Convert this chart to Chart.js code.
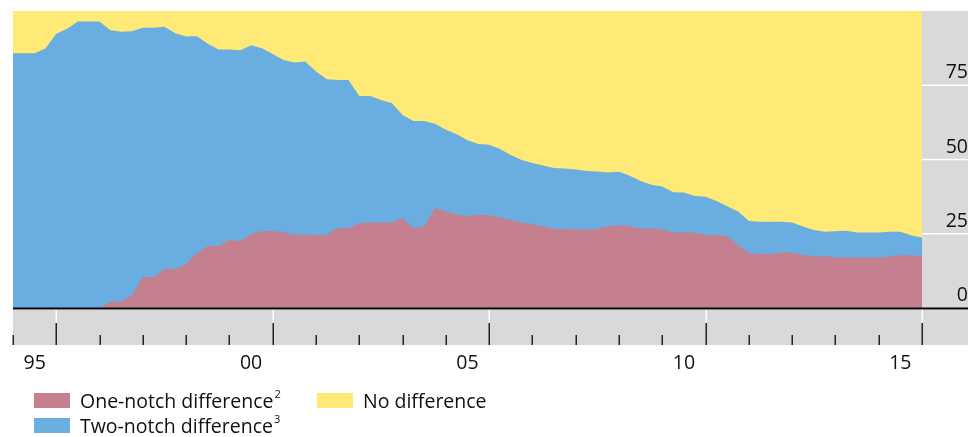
<!DOCTYPE html>
<html>
<head>
<meta charset="utf-8">
<script src="https://cdn.jsdelivr.net/npm/chart.js@4/dist/chart.umd.min.js"></script>
<style>
  html, body { margin: 0; padding: 0; background: #fff; }
  #wrap { position: relative; width: 968px; height: 437px; overflow: hidden; }
  #c { position: absolute; left: 0; top: 0; }
  .lg-box { position: absolute; width: 36px; height: 15px; }
  .lg-text { position: absolute; font-family: 'Open Sans', 'Noto Sans', sans-serif; font-size: 19.5px; line-height: 20px; color: #111; white-space: nowrap; }
  .lg-text sup { font-size: 11px; vertical-align: baseline; position: relative; top: -10px; margin-left: 1px; }
</style>
</head>
<body>
<div id="wrap">
  <canvas id="c" width="968" height="437"></canvas>
</div>
<script>
// ---- Data (quarterly, decimal years) ----
const quarters = [
  1994.5, 1994.75, 1995, 1995.25, 1995.5, 1995.75, 1996, 1996.25, 1996.5, 1996.75,
  1997, 1997.25, 1997.5, 1997.75, 1998, 1998.25, 1998.5, 1998.75, 1999, 1999.25,
  1999.5, 1999.75, 2000, 2000.25, 2000.5, 2000.75, 2001, 2001.25, 2001.5, 2001.75,
  2002, 2002.25, 2002.5, 2002.75, 2003, 2003.25, 2003.5, 2003.75, 2004, 2004.25,
  2004.5, 2004.75, 2005, 2005.25, 2005.5, 2005.75, 2006, 2006.25, 2006.5, 2006.75,
  2007, 2007.25, 2007.5, 2007.75, 2008, 2008.25, 2008.5, 2008.75, 2009, 2009.25,
  2009.5, 2009.75, 2010, 2010.25, 2010.5, 2010.75, 2011, 2011.25, 2011.5, 2011.75,
  2012, 2012.25, 2012.5, 2012.75, 2013, 2013.25, 2013.5, 2013.75, 2014, 2014.25,
  2014.5, 2014.75, 2015, 2015.25, 2015.5
];

const oneNotch = [
  0, 0, 0, 0, 0, 0, 0, 0, 0, 2.1,
  2.1, 4.4, 10.4, 10.4, 13.1, 13.1, 14.8, 18.5, 20.9, 20.9,
  22.9, 22.5, 24.9, 25.9, 25.9, 25.5, 24.7, 24.7, 24.5, 24.7,
  26.9, 26.9, 28.5, 28.8, 28.8, 28.8, 30.3, 26.9, 27.5, 33.7,
  32.5, 31.5, 31.0, 31.3, 31.3, 30.5, 29.6, 28.8, 28.1, 27.5,
  26.6, 26.6, 26.5, 26.4, 26.6, 27.5, 27.9, 27.5, 26.8, 26.8,
  26.5, 25.4, 25.4, 25.4, 24.6, 24.6, 24.2, 21.2, 18.5, 18.2,
  18.2, 18.7, 18.7, 17.8, 17.3, 17.5, 17.0, 17.0, 17.0, 17.0,
  17.0, 17.3, 17.8, 17.8, 17.5
];

const twoNotch = [
  85.8, 85.8, 85.8, 87.4, 92.3, 94.0, 96.5, 96.5, 96.5, 91.4,
  90.9, 88.8, 84.0, 84.0, 81.6, 79.4, 76.6, 73.0, 68.1, 66.1,
  64.1, 64.3, 63.6, 61.6, 59.6, 58.0, 58.0, 58.3, 55.1, 52.3,
  49.9, 49.9, 42.9, 42.6, 41.2, 40.2, 34.7, 36.1, 35.5, 28.3,
  27.5, 27.0, 25.5, 23.9, 23.7, 23.0, 21.9, 21.0, 20.7, 20.5,
  20.5, 20.4, 20.1, 19.7, 19.4, 18.1, 18.0, 17.0, 16.0, 14.7,
  14.4, 13.6, 13.5, 12.3, 12.9, 11.4, 10.1, 11.3, 10.8, 10.8,
  10.8, 10.3, 10.1, 9.6, 9.0, 8.2, 8.8, 9.0, 8.4, 8.4,
  8.4, 8.4, 7.9, 6.7, 6.2
];

const noDifference = [
  14.2, 14.2, 14.2, 12.6, 7.7, 6.0, 3.5, 3.5, 3.5, 6.5,
  7.0, 6.8, 5.6, 5.6, 5.3, 7.5, 8.6, 8.5, 11.0, 13.0,
  13.0, 13.2, 11.5, 12.5, 14.5, 16.5, 17.3, 17.0, 20.4, 23.0,
  23.2, 23.2, 28.6, 28.6, 30.0, 31.0, 35.0, 37.0, 37.0, 38.0,
  40.0, 41.5, 43.5, 44.8, 45.0, 46.5, 48.5, 50.2, 51.2, 52.0,
  52.9, 53.0, 53.4, 53.9, 54.0, 54.4, 54.1, 55.5, 57.2, 58.5,
  59.1, 61.0, 61.1, 62.3, 62.5, 64.0, 65.7, 67.5, 70.7, 71.0,
  71.0, 71.0, 71.2, 72.6, 73.7, 74.3, 74.2, 74.0, 74.6, 74.6,
  74.6, 74.3, 74.3, 75.5, 76.3
];

const seriesNames = ['One-notch difference', 'Two-notch difference', 'No difference'];
const seriesNotes = ['2', '3', ''];
const seriesColors = ['#c4808f', '#6aade0', '#ffea78'];
const xTickYears = [1995, 2000, 2005, 2010, 2015];
const yTickValues = [0, 25, 50, 75];

const toPts = arr => arr.map((v, i) => ({ x: quarters[i], y: v }));

Chart.defaults.font.family = "'Open Sans', 'Noto Sans', sans-serif";
Chart.defaults.color = '#111';

function noScalePadding(s) {
  s.paddingLeft = 0; s.paddingRight = 0; s.paddingTop = 0; s.paddingBottom = 0;
}

const framePlugin = {
  id: 'frame',
  beforeDraw(chart) {
    const { ctx, chartArea: ca, scales } = chart;
    const W = chart.width;
    ctx.save();
    ctx.fillStyle = '#d9d9d9';
    // right value panel
    ctx.fillRect(ca.right, ca.top, W - ca.right, ca.bottom - ca.top);
    // bottom time band
    ctx.fillRect(ca.left, ca.bottom + 2, W - ca.left, 35);
    // white lines in the value panel
    ctx.strokeStyle = '#ffffff';
    ctx.lineWidth = 1.5;
    yTickValues.forEach(v => {
      if (v === 0) return;
      const y = scales.y.getPixelForValue(v);
      ctx.beginPath(); ctx.moveTo(ca.right, y); ctx.lineTo(W, y); ctx.stroke();
    });
    // ticks in the time band
    const xs = scales.x;
    for (let v = xs.min; v <= xs.max + 1e-6; v += 1) {
      const x = Math.round(xs.getPixelForValue(v)) + 0.25;
      const major = Math.round(v - 0.5) % 5 === 0;
      if (major) {
        ctx.strokeStyle = '#ffffff'; ctx.lineWidth = 1.5;
        ctx.beginPath(); ctx.moveTo(x, ca.bottom + 2); ctx.lineTo(x, ca.bottom + 15); ctx.stroke();
        ctx.strokeStyle = '#222'; ctx.lineWidth = 1.5;
        ctx.beginPath(); ctx.moveTo(x, ca.bottom + 15); ctx.lineTo(x, ca.bottom + 37); ctx.stroke();
      } else {
        ctx.strokeStyle = '#222'; ctx.lineWidth = 1.5;
        ctx.beginPath(); ctx.moveTo(x, ca.bottom + 27); ctx.lineTo(x, ca.bottom + 37); ctx.stroke();
      }
    }
    ctx.restore();
  },
  afterDatasetsDraw(chart) {
    const { ctx, chartArea: ca } = chart;
    ctx.save();
    ctx.strokeStyle = '#000';
    ctx.lineWidth = 1.8;
    ctx.beginPath(); ctx.moveTo(ca.left, ca.bottom + 0.5); ctx.lineTo(chart.width, ca.bottom + 0.5); ctx.stroke();
    ctx.restore();
  }
};

const chart = new Chart(document.getElementById('c'), {
  type: 'line',
  data: {
    datasets: [oneNotch, twoNotch, noDifference].map((arr, i) => ({
      label: seriesNames[i],
      data: toPts(arr),
      backgroundColor: seriesColors[i],
      borderColor: 'rgba(0,0,0,0)',
      borderWidth: 0,
      pointRadius: 0,
      fill: 'origin',
      tension: 0
    }))
  },
  options: {
    responsive: false,
    animation: false,
    events: [],
    layout: { padding: { left: 13, top: 11, right: 0, bottom: 0 } },
    plugins: { legend: { display: false }, tooltip: { enabled: false } },
    scales: {
      x: {
        type: 'linear',
        min: 1994.5,
        max: 2015.5,
        offset: false,
        grid: { display: false, drawTicks: false },
        border: { display: false },
        afterBuildTicks(s) { s.ticks = xTickYears.map(v => ({ value: v })); },
        afterFit(s) { s.height = 129; noScalePadding(s); },
        ticks: {
          autoSkip: false,
          maxRotation: 0,
          minRotation: 0,
          padding: 44,
          font: { size: 19.5 },
          color: '#111',
          callback: v => String(v).slice(2)
        }
      },
      y: {
        position: 'right',
        stacked: true,
        min: 0,
        max: 100,
        grid: { display: false, drawTicks: false },
        border: { display: false },
        afterFit(s) { s.width = 46; noScalePadding(s); },
        afterBuildTicks(s) { s.ticks = yTickValues.map(v => ({ value: v })); },
        ticks: {
          crossAlign: 'far',
          padding: 23,
          labelOffset: -12.5,
          font: { size: 19.5 },
          color: '#111'
        }
      }
    }
  },
  plugins: [framePlugin]
});

// ---- HTML legend built from the datasets ----
const wrap = document.getElementById('wrap');
const legendSlots = [
  { ds: 0, left: 34, top: 393 },
  { ds: 2, left: 317, top: 393 },
  { ds: 1, left: 34, top: 418 }
];
legendSlots.forEach(slot => {
  const ds = chart.data.datasets[slot.ds];
  const box = document.createElement('div');
  box.className = 'lg-box';
  box.style.left = slot.left + 'px';
  box.style.top = slot.top + 'px';
  box.style.background = ds.backgroundColor;
  wrap.appendChild(box);
  const t = document.createElement('div');
  t.className = 'lg-text';
  t.style.left = (slot.left + 46) + 'px';
  t.style.top = (slot.top - 2.5) + 'px';
  t.textContent = ds.label;
  if (seriesNotes[slot.ds]) {
    const s = document.createElement('sup');
    s.textContent = seriesNotes[slot.ds];
    t.appendChild(s);
  }
  wrap.appendChild(t);
});
</script>
</body>
</html>
